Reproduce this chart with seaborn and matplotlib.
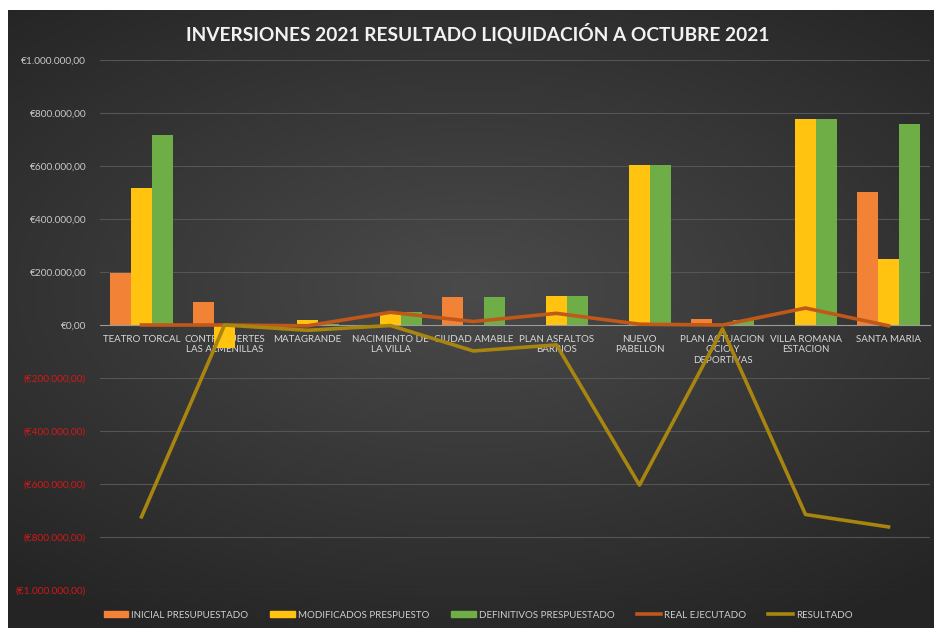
import numpy as np
import pandas as pd
import seaborn as sns
import matplotlib.pyplot as plt
from matplotlib.patches import Patch
from matplotlib.lines import Line2D
from matplotlib.ticker import FuncFormatter, MultipleLocator

proyectos = ["TEATRO TORCAL", "CONTRAFUERTES\nLAS ALMENILLAS", "MATAGRANDE",
             "NACIMIENTO DE\nLA VILLA", "CIUDAD AMABLE", "PLAN ASFALTOS\nBARRIOS",
             "NUEVO\nPABELLON", "PLAN ACTUACION\nOCIO Y\nDEPORTIVAS",
             "VILLA ROMANA\nESTACION", "SANTA MARIA"]
inicial = [198000, 87000, 0, 0, 107000, 0, 0, 22000, 0, 502000]
modificados = [517000, -88000, 17000, 40000, 0, 109000, 604000, 0, 777000, 249000]
definitivos = [717000, 0, 5000, 50000, 107000, 109000, 604000, 20000, 777000, 759000]
real = [0, 0, -3000, 48000, 13000, 44000, 3000, 0, 64000, -3000]
resultado = [-724000, 0, -20000, -2000, -98000, -75000, -604000, -15000, -715000, -762000]

series = ["INICIAL PRESUPUESTADO", "MODIFICADOS PRESPUESTO", "DEFINITIVOS PRESPUESTADO"]
colores = ["#F28236", "#FFC310", "#6FAE47"]


def euros(v, pos):
    s = f"€{abs(v):,.2f}".replace(",", "#").replace(".", ",").replace("#", ".")
    return f"({s})" if v < 0 else s


def main():
    plt.rcParams['font.family'] = ['Lato', 'DejaVu Sans']

    df = pd.DataFrame({
        "proyecto": proyectos * 3,
        "serie": [series[0]] * 10 + [series[1]] * 10 + [series[2]] * 10,
        "importe": inicial + modificados + definitivos,
    })

    fig = plt.figure(figsize=(9.34, 6.28), dpi=100, facecolor="white")

    # dark panel with a soft radial gradient
    bg = fig.add_axes([8 / 934, 0, 926 / 934, 618 / 628])
    yy, xx = np.mgrid[-1:1:300j, -1:1:400j]
    r = np.sqrt((xx * 0.9) ** 2 + ((yy + 0.1) * 1.1) ** 2)
    bg.imshow(np.clip(1 - r / 1.4, 0, 1), cmap=sns.blend_palette(["#242424", "#4a4a4a"], as_cmap=True),
              aspect="auto", extent=[0, 1, 0, 1])
    bg.set_axis_off()

    ax = fig.add_axes([100 / 934, 1 - 590 / 628, 830 / 934, 530 / 628])
    ax.patch.set_alpha(0)

    sns.barplot(data=df, x="proyecto", y="importe", hue="serie", palette=colores,
                saturation=1, width=0.76, ax=ax, legend=False, zorder=2)
    x = np.arange(len(proyectos))
    sns.lineplot(x=x, y=real, color="#C0581A", lw=2.6, ax=ax, zorder=3)
    sns.lineplot(x=x, y=resultado, color="#A8850F", lw=2.6, ax=ax, zorder=4)

    ax.set_ylim(-1000000, 1000000)
    ax.set_xlim(-0.5, len(proyectos) - 0.5)
    ax.yaxis.set_major_locator(MultipleLocator(200000))
    ax.yaxis.set_major_formatter(FuncFormatter(euros))
    ax.grid(axis="y", color="#555555", lw=0.8, zorder=0)
    ax.set_axisbelow(True)
    for s in ["top", "right", "left"]:
        ax.spines[s].set_visible(False)
    ax.spines["bottom"].set_position(("data", 0))
    ax.spines["bottom"].set_color("#9a9a9a")
    ax.spines["bottom"].set_zorder(1)
    ax.tick_params(axis="both", length=0)
    ax.tick_params(axis="x", labelsize=7, colors="#d9d9d9", pad=7)
    ax.tick_params(axis="y", labelsize=7.3, pad=10)
    ax.set_xlabel("")
    ax.set_ylabel("")
    fig.canvas.draw()
    for lab, v in zip(ax.get_yticklabels(), ax.get_yticks()):
        lab.set_color("#d41818" if v < 0 else "#c8c8c8")

    fig.text(478 / 934, 1 - 33 / 628, "INVERSIONES 2021 RESULTADO LIQUIDACIÓN A OCTUBRE 2021",
             ha="center", va="center", color="#f2f2f2", fontsize=13.8, fontweight="bold")

    handles = [Patch(color=c) for c in colores] + [
        Line2D([0], [0], color="#C0581A", lw=2.6),
        Line2D([0], [0], color="#A8850F", lw=2.6)]
    labels = series + ["REAL EJECUTADO", "RESULTADO"]
    fig.legend(handles, labels, loc="center", bbox_to_anchor=(478 / 934, 1 - 615 / 628),
               ncol=5, frameon=False, fontsize=7, labelcolor="#d0d0d0",
               handlelength=2.5, handleheight=0.6, columnspacing=2.3, handletextpad=0.3)

    fig.savefig("out.png", dpi=100, facecolor="white")
    plt.close(fig)


if __name__ == '__main__':
    main()
